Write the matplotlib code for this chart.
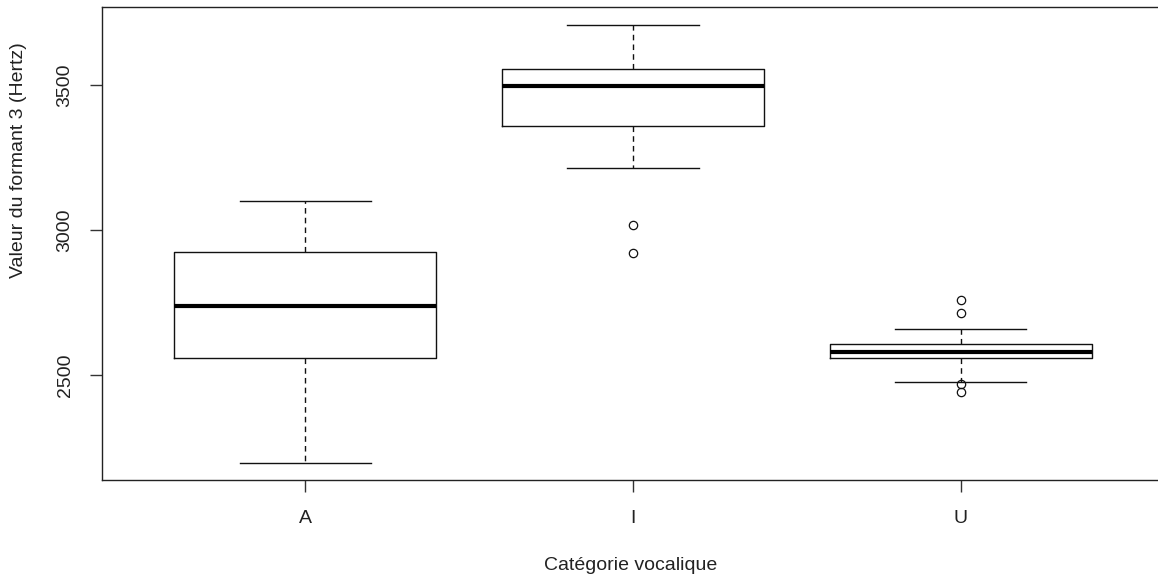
import matplotlib
matplotlib.use("Agg")
import matplotlib.pyplot as plt

categories = ["A", "I", "U"]
whisker_low = [2200, 3214, 2479]
q1 = [2559, 3359, 2559]
medians = [2738, 3497, 2580]
q3 = [2924, 3555, 2607]
whisker_high = [3100, 3707, 2659]
outliers = [[], [3017, 2921], [2759, 2714, 2470, 2443]]

plt.rcParams['font.family'] = ['Liberation Sans', 'DejaVu Sans']

fig = plt.figure(figsize=(11.58, 5.80), dpi=100)
ax = fig.add_axes([102/1158, 1 - 480/580, 1062/1158, 473/580])

stats = []
for i, c in enumerate(categories):
    stats.append(dict(label=c, med=medians[i], q1=q1[i], q3=q3[i],
                      whislo=whisker_low[i], whishi=whisker_high[i],
                      fliers=outliers[i]))

ax.bxp(stats, positions=[1, 2, 3], widths=0.8, showfliers=True,
       boxprops=dict(color='#111111', linewidth=1.0),
       medianprops=dict(color='black', linewidth=3.0, solid_capstyle='butt'),
       whiskerprops=dict(color='#111111', linewidth=1.0, linestyle=(0, (4, 3))),
       capprops=dict(color='#111111', linewidth=1.0),
       capwidths=0.4,
       flierprops=dict(marker='o', markerfacecolor='none', markeredgecolor='#111111',
                       markersize=6, markeredgewidth=0.9))

ax.set_xlim(0.38, 3.62)
ax.set_ylim(2140, 3768)
ax.set_yticks([2500, 3000, 3500])
ax.set_yticklabels(["2500", "3000", "3500"], rotation=90, va='center')
ax.set_xticks([1, 2, 3])
ax.set_xticklabels(categories)
ax.tick_params(axis='both', length=8.5, width=1.0, color='#333333', labelsize=14,
               colors='#222222')
ax.tick_params(axis='x', pad=13)
ax.tick_params(axis='y', pad=12)
for s in ax.spines.values():
    s.set_color('#222222')
    s.set_linewidth(1.0)

ax.set_xlabel("Catégorie vocalique", fontsize=14, color='#222222')
ax.set_ylabel("Valeur du formant 3 (Hertz)", fontsize=14, color='#222222')
ax.xaxis.set_label_coords((631 - 102) / 1062, (480 - 566) / 473)
ax.xaxis.label.set_va('center')
ax.yaxis.set_label_coords((19 - 102) / 1062, (480 - 160) / 473)
ax.yaxis.label.set_va('center')

fig.savefig("out.png", dpi=100)
